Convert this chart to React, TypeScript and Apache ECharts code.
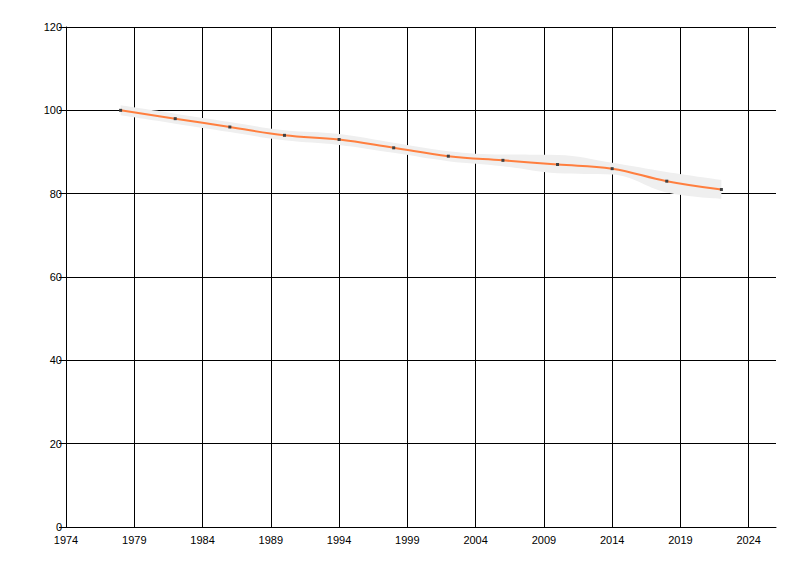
import { useEffect, useRef } from "react";
import * as echarts from "echarts";

const axisFirstYear = 1974;
const axisLastYear = 2026;
const years = [1978, 1982, 1986, 1990, 1994, 1998, 2002, 2006, 2010, 2014, 2018, 2022];
const values = [100, 98, 96, 94, 93, 91, 89, 88, 87, 86, 83, 81];
const upper = [101.2, 99.2, 97.2, 95.2, 94.3, 92.2, 90.2, 89.4, 89.3, 87.4, 85.2, 83.3];
const lower = [98.8, 96.8, 94.8, 92.8, 91.7, 89.8, 87.8, 86.6, 84.9, 84.6, 80.3, 78.8];

const textColor = "#000";
const fontFamily = "'Liberation Sans', Arial, sans-serif";

export default function App() {
  const containerRef = useRef<HTMLDivElement>(null);

  useEffect(() => {
    if (!containerRef.current) return;
    const chart = echarts.init(containerRef.current, undefined, { renderer: "svg" });

    const categories: string[] = [];
    for (let y = axisFirstYear; y <= axisLastYear; y++) categories.push(String(y));

    const lowerData = years.map((y, i) => [String(y), lower[i]]);
    const bandData = years.map((y, i) => [String(y), +(upper[i] - lower[i]).toFixed(2)]);
    const lineData = years.map((y, i) => [String(y), values[i]]);

    chart.setOption({
      animation: false,
      backgroundColor: "#fff",
      grid: { left: 66, top: 27, width: 710, height: 500 },
      xAxis: {
        type: "category",
        data: categories,
        boundaryGap: false,
        axisLine: { show: true, onZero: false, lineStyle: { color: "#000", width: 1 } },
        axisTick: { show: false, interval: 4 },
        axisLabel: {
          interval: 4,
          color: textColor,
          fontSize: 11,
          fontFamily,
          margin: 7,
        },
        splitLine: {
          show: true,
          interval: 4,
          lineStyle: { color: "#000", width: 1 },
        },
      },
      yAxis: {
        type: "value",
        min: 0,
        max: 120,
        interval: 20,
        axisLine: { show: true, lineStyle: { color: "#000", width: 1 } },
        axisTick: { show: true, length: 7, lineStyle: { color: "#000" } },
        axisLabel: { color: textColor, fontSize: 11, fontFamily, margin: 4 },
        splitLine: { show: true, lineStyle: { color: "#000", width: 1 } },
      },
      series: [
        {
          type: "line",
          data: lowerData,
          stack: "band",
          smooth: 0.4,
          symbol: "none",
          lineStyle: { opacity: 0 },
          silent: true,
          z: 2,
        },
        {
          type: "line",
          data: bandData,
          stack: "band",
          smooth: 0.4,
          symbol: "none",
          lineStyle: { opacity: 0 },
          areaStyle: { color: "#efefef", opacity: 1 },
          silent: true,
          z: 2,
        },
        {
          type: "line",
          data: lineData,
          smooth: 0.4,
          symbol: "rect",
          symbolSize: 3,
          itemStyle: { color: "#404040" },
          lineStyle: { color: "#ff7f3f", width: 2 },
          z: 3,
        },
      ],
    });

    return () => {
      chart.dispose();
    };
  }, []);

  return (
    <div
      ref={containerRef}
      style={{ position: "fixed", left: 0, top: 0, width: "800px", height: "576px" }}
    />
  );
}
